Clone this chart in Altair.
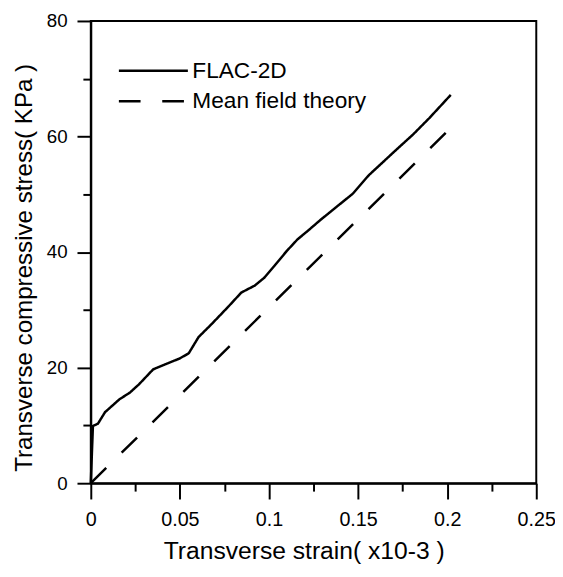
import altair as alt
import pandas as pd

# FLAC-2D curve
flac_strain = [0, 0.0012, 0.004, 0.008, 0.016, 0.022, 0.027, 0.035, 0.042, 0.050,
               0.055, 0.0605, 0.068, 0.077, 0.0845, 0.092, 0.0975, 0.103, 0.110,
               0.116, 0.1215, 0.129, 0.137, 0.147, 0.156, 0.170, 0.181, 0.190, 0.202]
flac_stress = [0, 9.9, 10.3, 12.3, 14.5, 15.7, 17.1, 19.7, 20.6, 21.6,
               22.5, 25.3, 27.6, 30.5, 33.0, 34.2, 35.6, 37.6, 40.2,
               42.2, 43.6, 45.6, 47.6, 50.1, 53.3, 57.3, 60.4, 63.2, 67.2]

# Mean field theory (straight line)
mft_strain = [0, 0.202]
mft_stress = [0, 61.5]

series = ["FLAC-2D", "Mean field theory"]
x_ticks = [0, 0.025, 0.05, 0.075, 0.1, 0.125, 0.15, 0.175, 0.2, 0.225, 0.25]
y_ticks = [0, 10, 20, 30, 40, 50, 60, 70, 80]

df = pd.concat([
    pd.DataFrame({"strain": flac_strain, "stress": flac_stress, "series": series[0]}),
    pd.DataFrame({"strain": mft_strain, "stress": mft_stress, "series": series[1]}),
])

FONT = "Liberation Sans"
major_x = "abs(datum.value*20 - round(datum.value*20)) < 1e-6"
major_y = "datum.value % 20 === 0"

chart = alt.Chart(df).mark_line(strokeWidth=2.5, color="black").encode(
    x=alt.X("strain:Q",
            scale=alt.Scale(domain=[0, 0.25], nice=False),
            axis=alt.Axis(values=x_ticks, format="~g",
                          labelExpr=f"{major_x} ? datum.label : ''",
                          tickSize={"condition": {"test": major_x, "value": 16}, "value": 8},
                          labelPadding=11, labelFontSize=20, labelFlush=False,
                          labelOverlap=False,
                          title="Transverse strain( x10-3 )",
                          titleFontSize=25, titleFontWeight="normal",
                          titleX=216, titleY=76, titleBaseline="alphabetic",
                          titleAlign="center")),
    y=alt.Y("stress:Q",
            scale=alt.Scale(domain=[0, 80], nice=False),
            axis=alt.Axis(values=y_ticks,
                          labelExpr=f"{major_y} ? datum.label : ''",
                          tickSize={"condition": {"test": major_y, "value": 14}, "value": 8},
                          labelPadding=10, labelFontSize=19, labelOverlap=False,
                          title="Transverse compressive stress( KPa )",
                          titleFontSize=24.5, titleFontWeight="normal",
                          titleX=-60, titleY=250, titleAngle=270,
                          titleBaseline="alphabetic", titleAlign="center")),
    strokeDash=alt.StrokeDash("series:N",
                              scale=alt.Scale(domain=series, range=[[1, 0], [22, 22]]),
                              legend=alt.Legend(orient="none", legendX=52, legendY=39,
                                                title=None, symbolType="M-3.5,0H3.5",
                                                symbolSize=400, symbolStrokeWidth=2.5,
                                                symbolStrokeColor="black",
                                                labelFontSize=23, labelFont=FONT,
                                                labelColor="black", labelOffset=28,
                                                labelLimit=0,
                                                rowPadding=7, padding=0)),
    order=alt.Order("strain:Q"),
).properties(
    width=452, height=469,
    autosize="none",
    background="white",
    padding={"left": 84, "top": 9, "right": 19, "bottom": 91},
).configure_axis(
    grid=False, domainColor="black", domainWidth=2, tickColor="black", tickWidth=2,
    labelColor="black", titleColor="black", labelFont=FONT, titleFont=FONT,
).configure_view(
    stroke="black", strokeWidth=2,
)

chart.save("out.html", embed_options={"renderer": "svg", "actions": False})
